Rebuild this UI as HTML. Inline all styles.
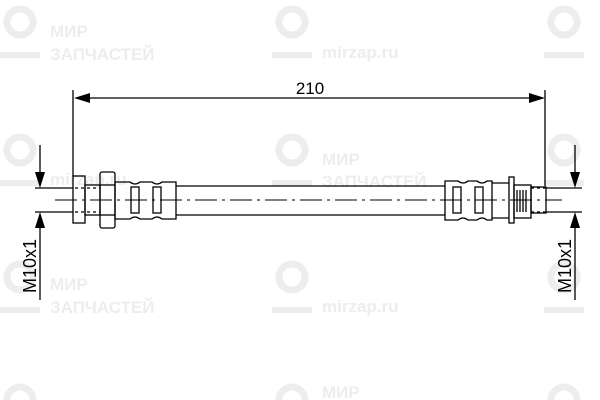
<!DOCTYPE html>
<html><head><style>html,body{margin:0;background:#fff;width:600px;height:400px;overflow:hidden}svg{display:block}</style></head><body>
<svg width="600" height="400" viewBox="0 0 600 400" xmlns="http://www.w3.org/2000/svg" font-family="Liberation Sans, sans-serif">
<g fill="#ededed" font-weight="bold" font-size="17">
<g id="w"><circle cx="20" cy="22" r="13" fill="none" stroke="#ededed" stroke-width="7"/><rect x="0" y="52" width="40" height="6"/></g>
<use href="#w" x="272"/><use href="#w" x="544"/>
<use href="#w" y="128"/><use href="#w" x="272" y="128"/><use href="#w" x="544" y="128"/>
<use href="#w" y="255"/><use href="#w" x="272" y="255"/><use href="#w" x="544" y="255"/>
<circle cx="20" cy="400" r="13" fill="none" stroke="#ededed" stroke-width="7"/>
<circle cx="292" cy="400" r="13" fill="none" stroke="#ededed" stroke-width="7"/>
<circle cx="564" cy="400" r="13" fill="none" stroke="#ededed" stroke-width="7"/>
<text x="50" y="37">МИР</text><text x="50" y="60">ЗАПЧАСТЕЙ</text>
<text x="322" y="58">mirzap.ru</text>
<text x="50" y="185">mirzap.ru</text>
<text x="322" y="165">МИР</text><text x="322" y="187">ЗАПЧАСТЕЙ</text>
<text x="50" y="290">МИР</text><text x="50" y="313">ЗАПЧАСТЕЙ</text>
<text x="322" y="312">mirzap.ru</text>
<text x="322" y="398">МИР</text>
</g>
<g stroke="#000" stroke-width="1.3" fill="none">
<line x1="73" y1="90" x2="73" y2="176"/><line x1="545" y1="90" x2="545" y2="186"/>
<line x1="88" y1="98" x2="530" y2="98"/>
<line x1="35" y1="188" x2="73" y2="188"/><line x1="35" y1="212" x2="73" y2="212"/>
<line x1="546" y1="188" x2="582" y2="188"/><line x1="546" y1="212" x2="582" y2="212"/>
<line x1="40" y1="145" x2="40" y2="175"/><line x1="40" y1="225" x2="40" y2="300"/>
<line x1="575" y1="145" x2="575" y2="175"/><line x1="575" y1="225" x2="575" y2="300"/>
<rect x="73" y="176" width="12" height="47"/>
<rect x="85" y="185" width="15" height="30"/>
<rect x="100" y="172" width="15" height="56" rx="2"/>
<line x1="100" y1="185" x2="115" y2="185"/><line x1="100" y1="215" x2="115" y2="215"/>
<path d="M115 182 H130 Q135 186 140 182 H152 Q157 186 162 182 H176 V219 H162 Q157 215 152 219 H140 Q135 215 130 219 H115 Z"/>
<rect x="131" y="187" width="8" height="26"/><rect x="153" y="187" width="8" height="26"/>
<line x1="176" y1="186" x2="445" y2="186"/><line x1="176" y1="215" x2="445" y2="215"/>
<path d="M445 181 H458 Q463 185 468 181 H477 Q482 185 487 181 H492 V220 H487 Q482 216 477 220 H468 Q463 216 458 220 H445 Z"/>
<rect x="453" y="187" width="8" height="26"/><rect x="475" y="187" width="8" height="26"/>
<rect x="509" y="177" width="5" height="46"/>
<rect x="514" y="185" width="17" height="33"/>
<rect x="531" y="187" width="15" height="26"/>
<path d="M517 190 V212 M520 190 V212 M523 190 V212 M526 190 V212"/>
<line x1="492" y1="183" x2="509" y2="183"/><line x1="492" y1="218" x2="509" y2="218"/>
<line x1="55" y1="200" x2="562" y2="200" stroke-dasharray="22,5,3,5" stroke-width="1"/>
<path d="M75 188 H100 M75 212 H100 M531 188 H546 M531 212 H546" stroke-dasharray="3,3"/>
</g>
<g fill="#000">
<path d="M74 98 L90 93 L90 103 Z"/><path d="M545 98 L529 93 L529 103 Z"/>
<path d="M40 188 L35 172 L45 172 Z"/><path d="M40 212 L35 228 L45 228 Z"/>
<path d="M575 188 L570 172 L580 172 Z"/><path d="M575 212 L570 228 L580 228 Z"/>
</g>
<text x="310" y="94" font-size="17" text-anchor="middle">210</text>
<text transform="translate(36,266) rotate(-90)" font-size="18" text-anchor="middle">M10x1</text>
<text transform="translate(571,266) rotate(-90)" font-size="18" text-anchor="middle">M10x1</text>
</svg>
</body></html>
